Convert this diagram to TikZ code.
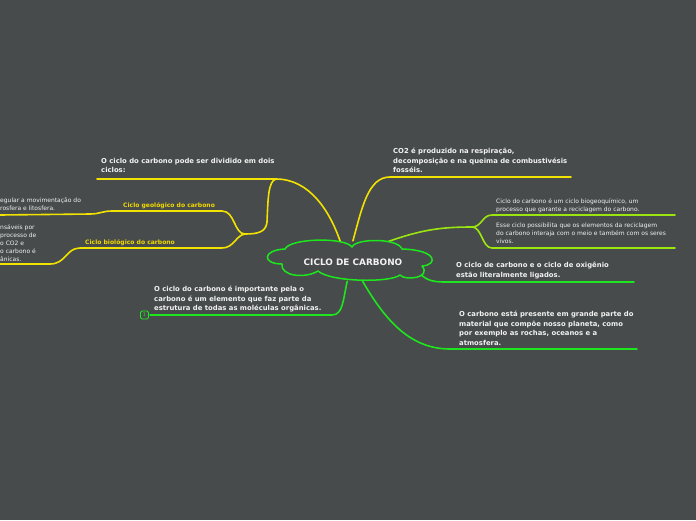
\documentclass[tikz,border=0pt]{standalone}
\usepackage{fontspec}
\setmainfont{DejaVu Sans}
\usetikzlibrary{shapes.geometric}
\definecolor{bg}{HTML}{474B4B}
\definecolor{yel}{HTML}{F2E200}
\definecolor{grn}{HTML}{1EE61E}
\definecolor{limec}{HTML}{9BE60F}
\definecolor{txt}{HTML}{F2F2F2}
\definecolor{ylab}{HTML}{F0D800}
\begin{document}
\begin{tikzpicture}[x=1pt,y=-1pt,
  boldtxt/.style={font=\fontsize{6.85}{9.5}\selectfont\bfseries, text=txt, align=left, anchor=north west, inner sep=0pt},
  thintxt/.style={font=\fontsize{6.0}{8}\selectfont, text=txt, align=left, anchor=north west, inner sep=0pt},
  labtxt/.style={font=\fontsize{6.05}{8}\selectfont\bfseries, text=ylab, anchor=north west, inner sep=0pt},
  ybr/.style={draw=yel, line width=1.6pt, line cap=round},
  gbr/.style={draw=grn, line width=1.6pt, line cap=round},
  lbr/.style={draw=limec, line width=1.6pt, line cap=round},
  cloudline/.style={draw=grn, line width=1.5pt, fill=bg, line join=round}]
\fill[bg] (0,0) rectangle (696,520);
\useasboundingbox (0,0) rectangle (696,520);

% central topic (ellipse carrier of the anchors, cloud outline drawn later)
\node[ellipse, minimum width=164pt, minimum height=40pt, inner sep=0pt] (cloud) at (349,261) {};

% text nodes
\node[boldtxt] (n1) at (101,158) {O ciclo do carbono pode ser dividido em dois\\ciclos:};
\node[boldtxt] (n2) at (393,148) {CO2 é produzido na respiração,\\decomposição e na queima de combustivésis\\fosséis.};
\node[thintxt] (n3) at (496,198) {Ciclo do carbono é um ciclo biogeoquímico, um\\processo que garante a reciclagem do carbono.};
\node[thintxt] (n4) at (496,223) {Esse ciclo possibilita que os elementos da reciclagem\\do carbono interaja com o meio e também com os seres\\vivos.};
\node[boldtxt] (n5) at (456,262) {O ciclo de carbono e o ciclo de oxigênio\\estão literalmente ligados.};
\node[boldtxt] (n6) at (459,311) {O carbono está presente em grande parte do\\material que compõe nosso planeta, como\\por exemplo as rochas, oceanos e a\\atmosfera.};
\node[boldtxt] (n7) at (154,286) {O ciclo do carbono é importante pela o\\carbono é um elemento que faz parte da\\estrutura de todas as moléculas orgânicas.};
\node[labtxt] (geo) at (123,202) {Ciclo geológico do carbono};
\node[labtxt] (bio) at (85,239) {Ciclo biológico do carbono};
\node[thintxt] (l1) at (0,198) {egular a movimentação do\\rosfera e litosfera.};
\node[thintxt] (l2) at (0,224) {nsáveis por\\processo de\\o CO2 e\\o carbono é\\ânicas.};

% coordinates for line ends
\coordinate (a1) at (97,179);  \coordinate (b1) at (276,179);
\coordinate (a2) at (571,177); \coordinate (b2) at (390,177);
\coordinate (j3) at (472,227);
\coordinate (a3) at (675,215); \coordinate (a4) at (675,248);
\coordinate (a5) at (634,282); \coordinate (b5) at (445,282);
\coordinate (a6) at (637,349); \coordinate (b6) at (450,349);
\coordinate (a7) at (150,315); \coordinate (b7) at (332,315);
\coordinate (jg) at (245,234);
\coordinate (ag) at (0,215);
\coordinate (ab) at (0,264);

% yellow branches
\draw[ybr] (cloud.114) .. controls (330,212) and (310,179) .. (b1) -- (a1);
\draw[ybr] (cloud.79) .. controls (362,208) and (368,177) .. (b2) -- (a2);
\draw[ybr] (b1) .. controls (268,181) and (268,200) .. (267,222) .. controls (266,232) and (258,234) .. (jg);
\draw[ybr] (jg) .. controls (234,234) and (235,211) .. (222,211) -- (112,211) .. controls (102,211) and (100,214) .. (90,214) -- (ag);
\draw[ybr] (jg) .. controls (236,235) and (234,248) .. (222,248) -- (80,248) .. controls (66,248) and (66,264) .. (50,264) -- (ab);

% lime branches
\draw[lbr] (cloud.27) .. controls (420,230) and (440,227) .. (j3);
\draw[lbr] (j3) .. controls (482,227) and (482,215) .. (492,215) -- (a3);
\draw[lbr] (j3) .. controls (482,227) and (482,248) .. (492,248) -- (a4);

% green branches
\draw[gbr] (cloud.-9) .. controls (425,279) and (430,282) .. (b5) -- (a5);
\draw[gbr] (cloud.-56) .. controls (385,320) and (410,349) .. (b6) -- (a6);
\draw[gbr] (cloud.-95) .. controls (343,300) and (343,315) .. (b7) -- (a7);

% cloud outline
\draw[cloudline] (285,249)
  .. controls (290,238) and (345,237) .. (352,247)
  .. controls (356,238) and (398,238) .. (402,249)
  .. controls (438,250) and (438,265) .. (422,266)
  .. controls (432,278) and (405,281) .. (400,275)
  .. controls (390,283) and (330,282) .. (318,271)
  .. controls (305,279) and (280,276) .. (282,264)
  .. controls (262,264) and (262,250) .. cycle;
\node[font=\fontsize{8.9}{10}\selectfont\bfseries, text=txt, inner sep=0pt] (title) at ([xshift=4pt,yshift=-1pt]cloud.center) {CICLO DE CARBONO};

% icon
\node[draw=grn, rounded corners=1.5pt, line width=0.8pt, minimum width=8pt, minimum height=8pt, inner sep=0pt,
      font=\fontsize{5}{5}\selectfont, text=grn] (icon) at (144.5,315) {1};
\end{tikzpicture}
\end{document}
